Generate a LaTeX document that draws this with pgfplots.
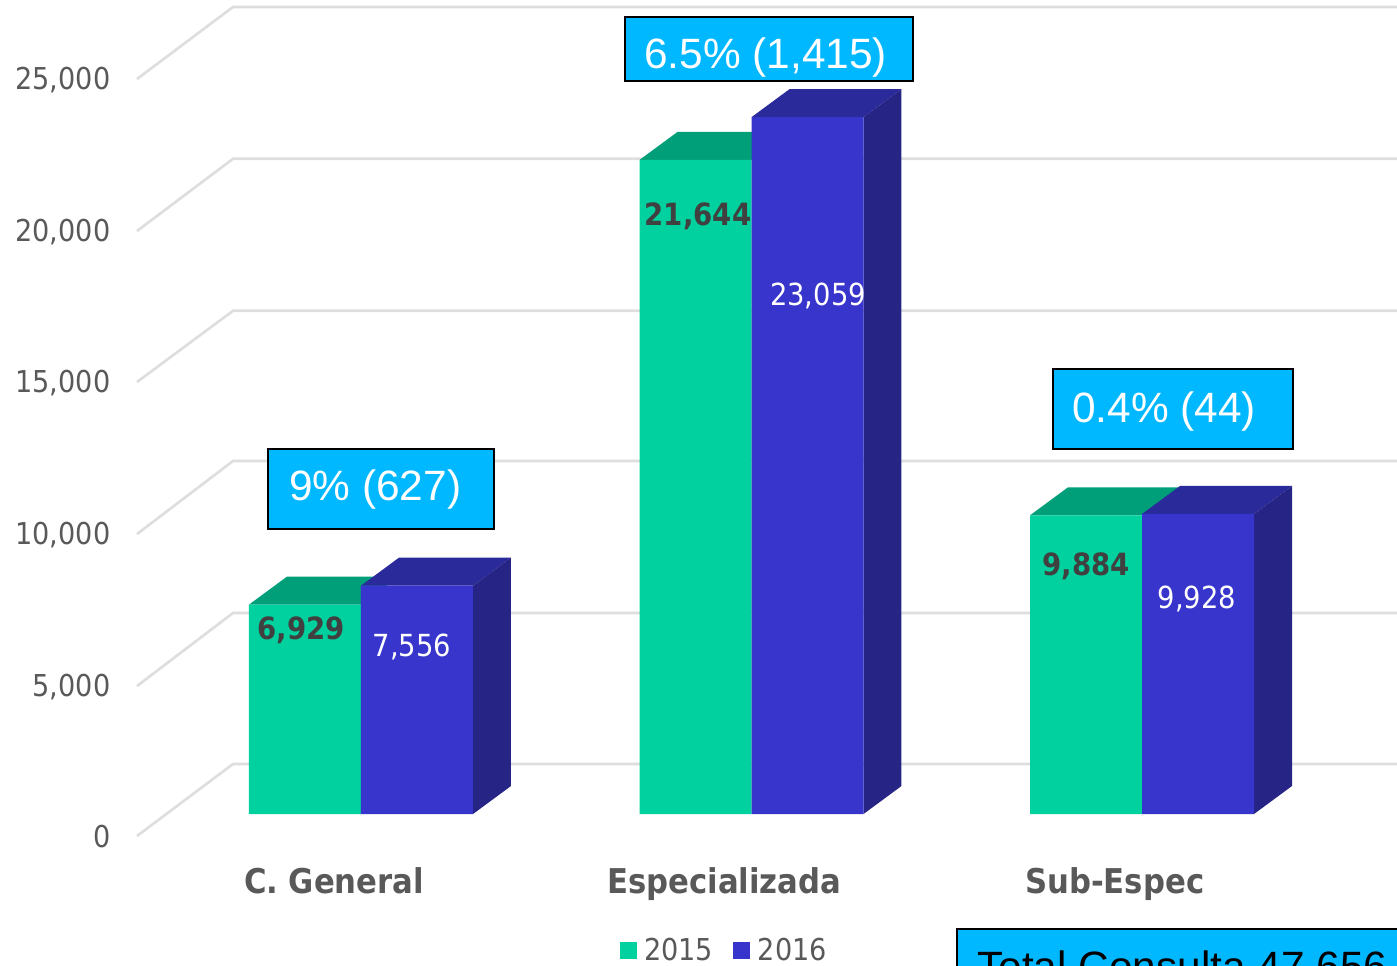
\documentclass[border=0pt]{standalone}
\usepackage{fontspec}
\setmainfont{DejaVu Sans Condensed}[BoldFont={DejaVu Sans Condensed Bold}]
\newfontfamily\boxfont{Liberation Sans}
\usepackage{pgfplots}
\pgfplotsset{compat=1.18}
\definecolor{green15}{RGB}{0,209,158}
\definecolor{greentop}{RGB}{0,159,122}
\definecolor{blue16}{RGB}{56,53,204}
\definecolor{bluetop}{RGB}{42,42,154}
\definecolor{blueside}{RGB}{38,36,133}
\definecolor{gridc}{RGB}{222,222,222}
\definecolor{txt}{RGB}{89,89,89}
\definecolor{lab}{RGB}{64,64,64}
\definecolor{callout}{RGB}{0,184,255}
\newcommand{\fs}[1]{\fontsize{#1}{#1}\selectfont}
\begin{document}
\begin{tikzpicture}
% 1 px of the reference = 0.75pt
\path[use as bounding box] (0pt,0pt) rectangle (1047.75pt,-723.75pt);
\clip (0pt,0pt) rectangle (1047.75pt,-723.75pt);
\begin{axis}[
  at={(102.75pt,-645pt)}, anchor=south west,
  scale only axis,
  width=945pt, height=645pt,
  xmin=-0.5736, xmax=2.653,
  ymin=-1522, ymax=26936,
  clip=false,
  scaled y ticks=false,
  axis line style={draw=none},
  tick style={draw=none},
  xtick={-0.069,0.93,1.93},
  xticklabels={C. General,Especializada,Sub-Espec},
  xticklabel style={font=\fs{25.6}\bfseries, text=txt, anchor=base, yshift=-25pt},
  ytick={-728,4236,9265,14295,19292,24321},
  yticklabels={0,{5,000},{10,000},{15,000},{20,000},{25,000}},
  yticklabel style={font=\fs{22.6}, text=txt, anchor=east, xshift=-16.5pt, yshift=-0.5pt},
  bar width=0.2868,
  legend columns=2,
  legend cell align=left,
  legend style={at={(0.4663,-0.105)}, anchor=center, draw=none, fill=none,
    font=\fs{22.6}, text=txt, inner sep=0pt,
    /tikz/every even column/.append style={column sep=13pt}},
  legend image code/.code={\fill[#1] (0pt,-6.4pt) rectangle (12.75pt,6.4pt);
    \path (16.5pt,0pt) circle (0pt);},
]
% back wall and left wall grid lines
\addplot[gridc, line width=2pt, forget plot] coordinates {(-0.5736,-728) (-0.3278,1655) (2.653,1655)};
\addplot[gridc, line width=2pt, forget plot] coordinates {(-0.5736,4236) (-0.3278,6651) (2.653,6651)};
\addplot[gridc, line width=2pt, forget plot] coordinates {(-0.5736,9265) (-0.3278,11681) (2.653,11681)};
\addplot[gridc, line width=2pt, forget plot] coordinates {(-0.5736,14295) (-0.3278,16651) (2.653,16651)};
\addplot[gridc, line width=2pt, forget plot] coordinates {(-0.5736,19292) (-0.3278,21681) (2.653,21681)};
\addplot[gridc, line width=2pt, forget plot] coordinates {(-0.5736,24321) (-0.3278,26704) (2.653,26704)};
% 2015: tops, then fronts
\addplot[fill=greentop, draw=none, forget plot] coordinates {(-0.2868,6929) (0,6929) (0.0973,7856) (-0.1895,7856)} --cycle;
\addplot[fill=greentop, draw=none, forget plot] coordinates {(0.7132,21644) (1,21644) (1.0973,22571) (0.8105,22571)} --cycle;
\addplot[fill=greentop, draw=none, forget plot] coordinates {(1.7132,9884) (2,9884) (2.0973,10811) (1.8105,10811)} --cycle;
\addplot[ybar, bar shift=-0.1434, fill=green15, draw=none, color=green15] coordinates {(0,6929) (1,21644) (2,9884)};
\addlegendentry{2015}
% 2016: tops and sides, then fronts
\addplot[fill=bluetop, draw=none, forget plot] coordinates {(0,7556) (0.2868,7556) (0.3841,8483) (0.0973,8483)} --cycle;
\addplot[fill=bluetop, draw=none, forget plot] coordinates {(1,23059) (1.2868,23059) (1.3841,23986) (1.0973,23986)} --cycle;
\addplot[fill=bluetop, draw=none, forget plot] coordinates {(2,9928) (2.2868,9928) (2.3841,10855) (2.0973,10855)} --cycle;
\addplot[fill=blueside, draw=none, forget plot] coordinates {(0.2868,0) (0.2868,7556) (0.3841,8483) (0.3841,927)} --cycle;
\addplot[fill=blueside, draw=none, forget plot] coordinates {(1.2868,0) (1.2868,23059) (1.3841,23986) (1.3841,927)} --cycle;
\addplot[fill=blueside, draw=none, forget plot] coordinates {(2.2868,0) (2.2868,9928) (2.3841,10855) (2.3841,927)} --cycle;
\addplot[ybar, bar shift=0.1434, fill=blue16, draw=none, color=blue16] coordinates {(0,7556) (1,23059) (2,9928)};
\addlegendentry{2016}
\end{axis}
\begin{scope}[x=0.75pt,y=-0.75pt]
% value labels
\node[anchor=base,font=\fs{23}\bfseries,text=lab,inner sep=0pt] at (301,639) {6,929};
\node[anchor=base,font=\fs{23}\bfseries,text=lab,inner sep=0pt] at (698,225) {21,644};
\node[anchor=base,font=\fs{23}\bfseries,text=lab,inner sep=0pt] at (1086,575) {9,884};
\node[anchor=base,font=\fs{22.8},text=white,inner sep=0pt] at (412,656) {7,556};
\node[anchor=base,font=\fs{22.8},text=white,inner sep=0pt] at (818,305) {23,059};
\node[anchor=base,font=\fs{22.8},text=white,inner sep=0pt] at (1197,608) {9,928};
% callouts
\draw[black,line width=1.8pt,fill=callout] (268,449) rectangle (494,529);
\draw[black,line width=1.8pt,fill=callout] (625,17) rectangle (913,81);
\draw[black,line width=1.8pt,fill=callout] (1053,369) rectangle (1293,449);
\draw[black,line width=1.8pt,fill=callout] (957,929) rectangle (1420,1000);
\node[anchor=base west,font=\boxfont\fs{31.8},text=white,inner sep=0pt] at (289,500) {9\% (627)};
\node[anchor=base west,font=\boxfont\fs{31.8},text=white,inner sep=0pt] at (644,68) {6.5\% (1,415)};
\node[anchor=base west,font=\boxfont\fs{31.8},text=white,inner sep=0pt] at (1072,422) {0.4\% (44)};
\node[anchor=base west,font=\boxfont\fs{31.8},text=black,inner sep=0pt] at (977,981) {Total Consulta 47,656};
\end{scope}
\end{tikzpicture}
\end{document}
